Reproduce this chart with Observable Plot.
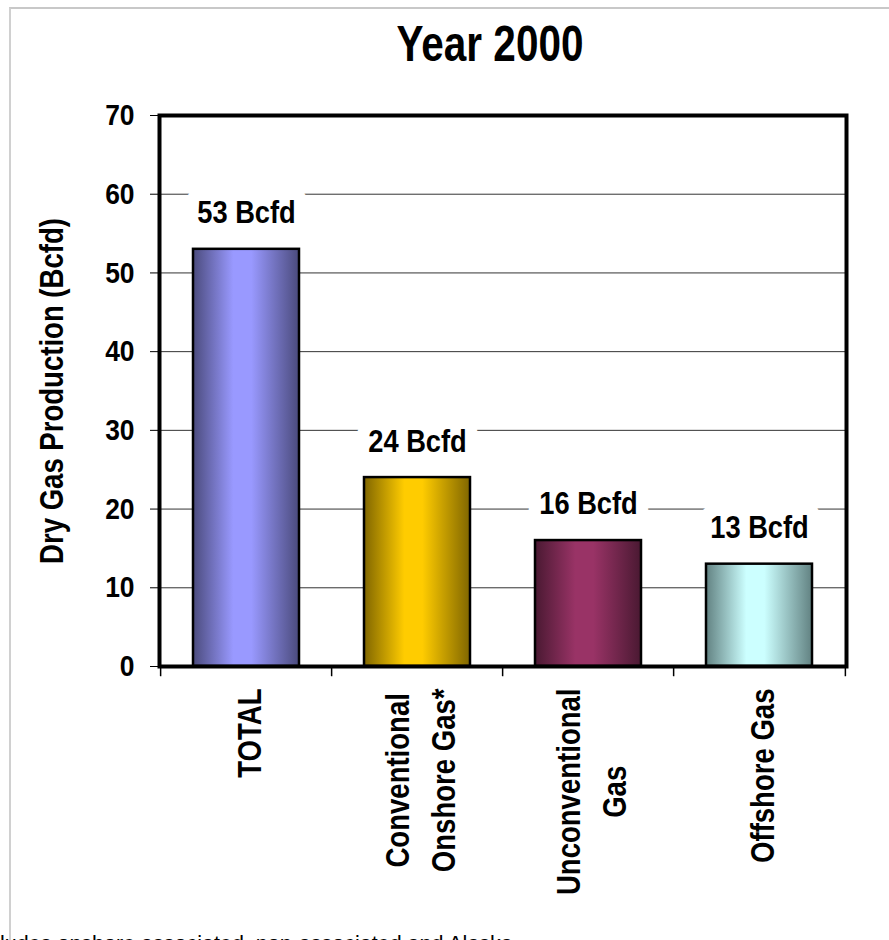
<!DOCTYPE html>
<html>
<head>
<meta charset="utf-8">
<script src="https://cdn.jsdelivr.net/npm/d3@7"></script>
<script src="https://cdn.jsdelivr.net/npm/@observablehq/plot@0.6"></script>
<style>
  html, body { margin: 0; padding: 0; overflow: hidden; background: white; }
  #page { position: relative; width: 889px; height: 940px; overflow: hidden; background: white; }
  #border { position: absolute; left: 9px; top: 7px; right: -10px; bottom: -10px; pointer-events: none;
            border-top: 2px solid #c8c8c8; border-left: 2px solid #d0d0d0; }
  #title { position: absolute; left: 490px; top: 19px; transform: translateX(-50%) scaleX(0.81);
           font-family: "Liberation Sans", Arial, sans-serif;
           font-weight: bold; font-size: 50px; line-height: 50px; white-space: nowrap; color: #000; }
  #chart { position: absolute; left: 0; top: 80px; }
  #caption { position: absolute; left: -37px; top: 933px; white-space: nowrap;
             font-family: "Liberation Sans", Arial, sans-serif; font-size: 21.5px; line-height: 22px; color: #000; }
</style>
</head>
<body>
<div id="page">
  <div id="title">Year 2000</div>
  <div id="chart"></div>
  <div id="caption">*Includes onshore associated, non-associated and Alaska</div>
  <div id="border"></div>
</div>
<script>
// ---- data ----
const categories = ["TOTAL", "Conventional\nOnshore Gas*", "Unconventional\nGas", "Offshore Gas"];
const values = [53, 24, 16, 13];
const valueLabels = ["53 Bcfd", "24 Bcfd", "16 Bcfd", "13 Bcfd"];
const yTicks = [0, 10, 20, 30, 40, 50, 60, 70];
const lightColors = ["#9999ff", "#ffcc00", "#993366", "#ccffff"];
const darkColors = ["#4b4b7d", "#806600", "#4a1932", "#628282"];
const yLabel = "Dry Gas Production (Bcfd)";

const rows = categories.map((c, i) => ({cat: c, value: values[i], label: valueLabels[i], grad: `url(#grad${i})`}));

const W = 889, H = 830;
const mL = 159, mR = 43, mT = 35, mB = 244;
const step = (W - mL - mR) / categories.length;
const font = "'Liberation Sans', Arial, sans-serif";
const fsCat = 34;          // rotated labels
const kCat = 0.81;         // horizontal condensing of the rotated labels
const kSmall = 0.88;       // condensing of the tick and value labels

// measure the longest line of each category label for centring the rotated block
const ctx = document.createElement("canvas").getContext("2d");
ctx.font = `bold ${fsCat}px ${font}`;
const maxLen = categories.map(c => d3.max(c.split("\n"), l => ctx.measureText(l).width) * kCat);

const catLabelMarks = categories.map((c, i) =>
  Plot.text([c], {
    x: d => d, frameAnchor: "bottom", rotate: -90,
    textAnchor: "middle", lineAnchor: "middle", lineHeight: 1.33,
    dy: 22 + maxLen[i] / 2, fontSize: fsCat, fontWeight: "bold", fill: "black"
  })
);

const svg = Plot.plot({
  width: W, height: H,
  marginLeft: mL, marginRight: mR, marginTop: mT, marginBottom: mB,
  style: {fontFamily: font, fontWeight: "bold", fontSize: "30px", color: "black", background: "white", overflow: "visible"},
  x: {domain: categories, paddingInner: 0.378, paddingOuter: 0.189, axis: null},
  y: {domain: [0, 70], axis: null},
  color: {type: "identity"},
  marks: [
    Plot.gridY(yTicks, {stroke: "#333333", strokeOpacity: 1, strokeWidth: 1}),
    Plot.barY(rows, {x: "cat", y: "value", fill: "grad", stroke: "black", strokeWidth: 2.5}),
    Plot.text(rows, {x: "cat", y: "value", text: "label", dy: -36, fontSize: 31, fontWeight: "bold",
      fill: "black", stroke: "white", strokeWidth: 28, strokeLinejoin: "round", paintOrder: "stroke"}),
    Plot.frame({stroke: "black", strokeWidth: 4}),
    Plot.axisY({ticks: yTicks, tickSize: 9, tickPadding: 16, fontSize: 30, tickFormat: d => String(d), label: null, stroke: "black"}),
    Plot.ruleX(categories, {x: d => d, dx: -step / 2, y1: 0, y2: -1.3, stroke: "black", strokeWidth: 1.5}),
    Plot.ruleX([categories[categories.length - 1]], {x: d => d, dx: step / 2, y1: 0, y2: -1.3, stroke: "black", strokeWidth: 1.5}),
    ...catLabelMarks,
    Plot.text([yLabel], {text: d => d, frameAnchor: "left", rotate: -90, dx: -107,
      textAnchor: "middle", fontSize: fsCat, fontWeight: "bold", fill: "black"})
  ]
});

// horizontal shaded gradients for the bars
const defs = d3.create("svg:defs");
lightColors.forEach((c, i) => {
  const g = defs.append("linearGradient").attr("id", `grad${i}`)
    .attr("x1", "0%").attr("x2", "100%").attr("y1", "0%").attr("y2", "0%");
  g.append("stop").attr("offset", "0%").attr("stop-color", darkColors[i]);
  g.append("stop").attr("offset", "38%").attr("stop-color", c);
  g.append("stop").attr("offset", "55%").attr("stop-color", c);
  g.append("stop").attr("offset", "100%").attr("stop-color", darkColors[i]);
});
svg.insertBefore(defs.node(), svg.firstChild);

document.getElementById("chart").appendChild(svg);

// condense the text horizontally (narrow bold look of the original)
svg.querySelectorAll("text").forEach(t => {
  const size = parseFloat(getComputedStyle(t).fontSize);
  const k = size >= 33 ? kCat : kSmall;
  const spans = t.querySelectorAll("tspan");
  const targets = spans.length ? Array.from(spans) : [t];
  targets.forEach(el => {
    const L = el.getComputedTextLength();
    if (L > 0) {
      el.setAttribute("textLength", (L * k).toFixed(2));
      el.setAttribute("lengthAdjust", "spacingAndGlyphs");
    }
  });
});
</script>
</body>
</html>
